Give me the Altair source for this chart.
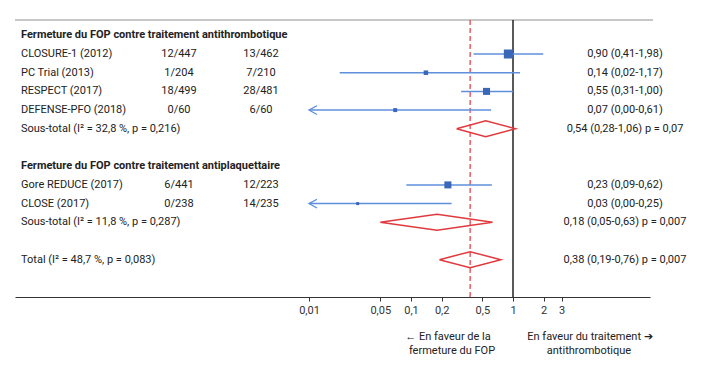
import altair as alt
import pandas as pd

# ---------------- data ----------------
group_titles = ["Fermeture du FOP contre traitement antithrombotique",
                "Fermeture du FOP contre traitement antiplaquettaire"]
study_names = [["CLOSURE-1 (2012)", "PC Trial (2013)", "RESPECT (2017)", "DEFENSE-PFO (2018)"],
               ["Gore REDUCE (2017)", "CLOSE (2017)"]]
closure_events = [["12/447", "1/204", "18/499", "0/60"], ["6/441", "0/238"]]
control_events = [["13/462", "7/210", "28/481", "6/60"], ["12/223", "14/235"]]
study_rr = [[0.90, 0.14, 0.55, 0.07], [0.23, 0.03]]
study_lo = [[0.41, 0.02, 0.31, 0.00], [0.09, 0.00]]
study_hi = [[1.98, 1.17, 1.00, 0.61], [0.62, 0.25]]
study_weight = [[36, 9, 22, 7], [22, 4]]
subtotal_i2 = ["32,8", "11,8"]
subtotal_phet = ["0,216", "0,287"]
subtotal_rr = [0.54, 0.18]
subtotal_lo = [0.28, 0.05]
subtotal_hi = [1.06, 0.63]
subtotal_p = ["0,07", "0,007"]
total_i2 = "48,7"
total_phet = "0,083"
total_rr = 0.38
total_lo = 0.19
total_hi = 0.76
total_p = "0,007"
tick_values = [0.01, 0.05, 0.1, 0.2, 0.5, 1, 2, 3]
left_note = ["\u2190 En faveur de la", "fermeture du FOP"]
right_note = ["En faveur du traitement \u2794", "antithrombotique"]


def fr(v):
    return f"{v:.2f}".replace(".", ",")


# ---------------- build tables ----------------
text_rows, studies, diamonds = [], [], []
r = 0
HALF = 0.43
x_min = tick_values[0]


def add_diamond(name, row, rr, lo, hi):
    pts = [(lo, row), (rr, row - HALF), (hi, row), (rr, row + HALF), (lo, row)]
    for k, (xx, yy) in enumerate(pts):
        diamonds.append(dict(grp=name, ord=k, x=xx, y=yy))


for g in range(len(group_titles)):
    text_rows.append(dict(row=r, label=group_titles[g], kind="header", c2="", c3="", right=""))
    r += 1
    for i, name in enumerate(study_names[g]):
        rr, lo, hi = study_rr[g][i], study_lo[g][i], study_hi[g][i]
        text_rows.append(dict(row=r, label=name, kind="study", c2=closure_events[g][i],
                              c3=control_events[g][i], right=f"{fr(rr)} ({fr(lo)}-{fr(hi)})"))
        studies.append(dict(row=r, rr=rr, lo=lo, hi=hi, lo_draw=max(lo, x_min),
                            trunc=lo < x_min, weight=study_weight[g][i]))
        r += 1
    text_rows.append(dict(row=r, label=f"Sous-total (I\u00b2 = {subtotal_i2[g]} %, p = {subtotal_phet[g]})",
                          kind="sub", c2="", c3="",
                          right=f"{fr(subtotal_rr[g])} ({fr(subtotal_lo[g])}-{fr(subtotal_hi[g])}) p = {subtotal_p[g]}"))
    add_diamond(f"s{g}", r, subtotal_rr[g], subtotal_lo[g], subtotal_hi[g])
    r += 2
text_rows.append(dict(row=r, label=f"Total (I\u00b2 = {total_i2} %, p = {total_phet})", kind="sub", c2="", c3="",
                      right=f"{fr(total_rr)} ({fr(total_lo)}-{fr(total_hi)}) p = {total_p}"))
add_diamond("tot", r, total_rr, total_lo, total_hi)
n_rows = r

tdf = pd.DataFrame(text_rows)
sdf = pd.DataFrame(studies)
ddf = pd.DataFrame(diamonds)
refdf = pd.DataFrame({"v": [1.0]})
pooldf = pd.DataFrame({"v": [total_rr]})

# ---------------- scales ----------------
FONT = "Roboto"
TXT = "#222222"
xscale = alt.Scale(type="log", domain=[1.312e-5, 22.03], range=[7, 642], nice=False)
xaxis = alt.Axis(values=tick_values, labelExpr="replace(toString(datum.value), '.', ',')",
                 title=None, grid=False, tickSize=4, tickColor="#333333", domainColor="#333333",
                 labelFont=FONT, labelFontSize=11, labelColor="#333333", labelPadding=3,
                 domainWidth=1, tickWidth=1, labelFlush=False, labelOverlap=False)
yscale = alt.Scale(domain=[0, n_rows], range=[27.3, 251.7], nice=False, zero=False)


def X(f):
    return alt.X(f, type="quantitative", scale=xscale, axis=xaxis)


def Y(f):
    return alt.Y(f, type="quantitative", scale=yscale, axis=None)


top_line = alt.Chart(refdf).mark_rule(color="#b4b4b4", strokeWidth=1.5).encode(
    x=alt.value(7), x2=alt.value(645), y=alt.value(12))

ref_line = alt.Chart(refdf).mark_rule(color="#222222", strokeWidth=1.5).encode(
    x=X("v"), y=alt.value(12), y2=alt.value(289))

pool_line = alt.Chart(pooldf).mark_rule(color="#e8454a", strokeWidth=1.3, strokeDash=[5, 3]).encode(
    x=X("v"), y=alt.value(12), y2=alt.value(289))

ci = alt.Chart(sdf).mark_rule(color="#5f8fdb", strokeWidth=1.5).encode(
    x=X("lo_draw"), x2="hi", y=Y("row"))

arrows = alt.Chart(sdf).transform_filter("datum.trunc").mark_point(
    shape="M2,-1.1L0,0L2,1.1", filled=False, color="#5f8fdb", size=64, strokeWidth=1.3, opacity=1).encode(
    x=X("lo_draw"), y=Y("row"))

squares = alt.Chart(sdf).mark_square(color="#3b67b9", opacity=1).encode(
    x=X("rr"), y=Y("row"),
    size=alt.Size("weight:Q", scale=alt.Scale(domain=[0, 36], range=[0, 81]), legend=None))

dia = alt.Chart(ddf).mark_line(color="#e0393e", strokeWidth=1.5).encode(
    x=X("x"), y=Y("y"), detail="grp:N", order="ord:Q")


def tlayer(field, xpos, align, flt=None, weight="normal"):
    c = alt.Chart(tdf)
    if flt:
        c = c.transform_filter(flt)
    return c.mark_text(align=align, baseline="middle", font=FONT, fontSize=11, color=TXT,
                       fontWeight=weight).encode(x=alt.value(xpos), y=Y("row"), text=f"{field}:N")


labels = tlayer("label", 13, "left", "datum.kind != 'header'")
headers = tlayer("label", 13, "left", "datum.kind == 'header'", "bold")
col2 = tlayer("c2", 171, "center")
col3 = tlayer("c3", 253, "center")
rcol = tlayer("right", 617, "center")


def note(txt, xpos, ypos):
    return alt.Chart(refdf).mark_text(text=txt, align="center", baseline="middle", font=FONT,
                                      fontSize=11, color=TXT).encode(x=alt.value(xpos), y=alt.value(ypos))


notes = [note(left_note[0], 440, 329), note(left_note[1], 444, 342.5),
         note(right_note[0], 582, 329), note(right_note[1], 581, 342.5)]

chart = alt.layer(top_line, ref_line, pool_line, ci, arrows, squares, dia,
                  labels, headers, col2, col3, rcol, *notes).properties(
    width=686, height=289,
    autosize=alt.AutoSizeParams(type="none"),
    padding={"left": 0, "top": 0, "right": 0, "bottom": 60},
    background="white",
).configure_view(stroke=None)

chart.save("out.html", embed_options={"renderer": "svg", "actions": False})
